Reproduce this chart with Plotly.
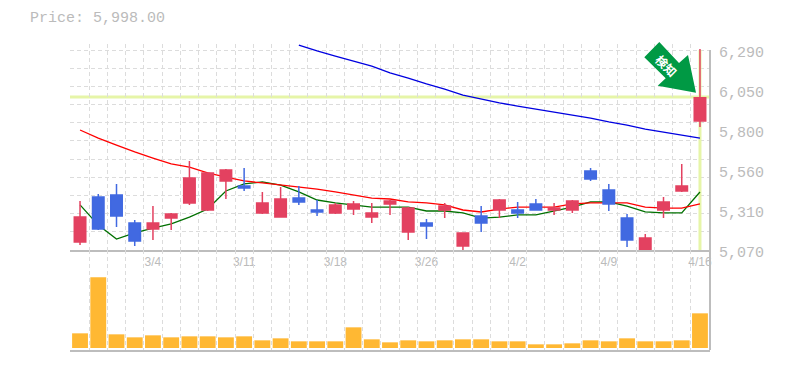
import plotly.graph_objects as go

dates = ["2/27","2/28","2/29","3/1","3/4","3/5","3/6","3/7","3/8","3/11","3/12","3/13","3/14","3/15","3/18","3/19","3/21","3/22","3/25","3/26","3/27","3/28","3/29","4/1","4/2","4/3","4/4","4/5","4/8","4/9","4/10","4/11","4/12","4/15","4/16"]
open_ = [5119,5393,5406,5235,5198,5265,5357,5314,5491,5460,5296,5271,5387,5314,5296,5320,5271,5351,5180,5235,5314,5094,5277,5314,5314,5351,5314,5314,5552,5436,5265,5070,5314,5430,5857]
high = [5369,5412,5473,5253,5338,5296,5613,5540,5564,5570,5424,5454,5460,5375,5357,5369,5357,5375,5332,5259,5357,5174,5338,5381,5363,5381,5357,5375,5570,5473,5290,5168,5393,5595,6296]
low = [5100,5192,5210,5094,5131,5192,5345,5308,5381,5430,5290,5271,5345,5277,5290,5284,5235,5284,5131,5137,5265,5064,5180,5265,5265,5314,5284,5296,5491,5308,5088,5064,5265,5424,5820]
close = [5271,5198,5277,5125,5235,5290,5509,5540,5558,5448,5357,5381,5363,5302,5345,5351,5296,5369,5326,5216,5338,5174,5235,5375,5296,5314,5326,5369,5503,5351,5131,5143,5363,5460,5998]
ma_short = [5345,5222,5137,5174,5204,5229,5271,5320,5430,5473,5485,5466,5424,5375,5357,5345,5332,5332,5332,5308,5308,5296,5265,5271,5284,5284,5308,5332,5363,5363,5338,5302,5296,5296,5424]
ma_mid = [5802,5753,5710,5668,5631,5595,5576,5540,5515,5491,5479,5466,5454,5442,5424,5406,5387,5381,5363,5357,5345,5314,5302,5320,5332,5332,5332,5351,5357,5357,5357,5332,5326,5326,5351]
ma_long = [None]*12 + [6320,6284,6253,6223,6192,6150,6119,6083,6052,6015,5991,5967,5948,5930,5912,5893,5875,5851,5832,5808,5790,5771,5753]
volume = [44,212,41,32,38,32,35,35,32,35,23,29,20,20,20,62,26,17,23,20,23,26,26,20,20,11,11,14,23,20,29,20,20,23,104]
price_ticks = [5070,5314,5558,5802,6046,6290]
price_labels = ["5,070","5,310","5,560","5,800","6,050","6,290"]
date_tick_index = [4,9,14,19,24,29,34]
signal_price = 6003
title_text = "Price: 5,998.00"
signal_text = "検知"

W, H = 785, 370
L, R, T, B = 70, 710, 44, 350
AXIS_BOTTOM = 250
UNIT = 6.1
Y_TOP = price_ticks[0] + (AXIS_BOTTOM - T) * UNIT
def px(x): return (x - L) / (R - L)
def py(y): return (B - y) / (B - T)

x = list(range(len(dates)))
x_range = [-0.55, len(dates) - 1 + 0.55]
GRID = "#dcdcdc"
AXIS = "#bdbdbd"
TEXT = "#bbbbbb"
RED = "#e34160"
BLUE = "#4169e1"
SIGNAL = "#e6f5a8"
GREEN = "#009944"
DASH = "4px,3px"

fig = go.Figure()
fig.add_trace(go.Scatter(x=x, y=ma_short, mode="lines", line=dict(color="#007000", width=1.3)))
fig.add_trace(go.Scatter(x=x, y=ma_mid, mode="lines", line=dict(color="#ff0000", width=1.3)))
fig.add_trace(go.Scatter(x=x, y=ma_long, mode="lines", line=dict(color="#0000e0", width=1.3)))
fig.add_trace(go.Candlestick(x=x, open=open_, high=high, low=low, close=close, yaxis="y3",
    increasing=dict(line=dict(color=RED, width=1.5), fillcolor=RED),
    decreasing=dict(line=dict(color=BLUE, width=1.5), fillcolor=BLUE),
    whiskerwidth=0))
fig.add_trace(go.Bar(x=x, y=volume, marker=dict(color="#ffb833", line=dict(width=0)), width=0.87, xaxis="x2", yaxis="y2"))

arrow = [(659.3,42),(679,63),(688,55),(696,92.7),(657.7,85.7),(665.7,78.3),(644.3,57.3)]
path = "M " + " L ".join(f"{px(a)},{py(b)}" for a, b in arrow) + " Z"

minor_x = dict(tickmode="linear", tick0=-0.5, dtick=1, showgrid=True, gridcolor=GRID, griddash=DASH, gridwidth=1, ticks="")
annotations = [
    dict(xref="paper", yref="paper", x=px(28), y=py(18), xanchor="left", yanchor="middle", showarrow=False, text=title_text,
         font=dict(family="Liberation Mono", size=15, color=TEXT)),
    dict(xref="paper", yref="paper", x=px(667), y=py(65), xanchor="center", yanchor="middle", showarrow=False, text=signal_text, textangle=45,
         font=dict(family="Noto Sans CJK JP", size=12, color="white", weight="bold")),
]
for value, label in zip(price_ticks, price_labels):
    annotations.append(dict(xref="paper", yref="y", x=px(717), y=value, yshift=-3, xanchor="left", yanchor="middle", showarrow=False,
                            text=label, font=dict(family="Liberation Mono", size=15, color=TEXT)))

fig.update_layout(
    width=W, height=H, autosize=False,
    margin=dict(l=L, r=W-R, t=T, b=H-B),
    paper_bgcolor="white", plot_bgcolor="white",
    showlegend=False, boxgap=0.1,
    xaxis=dict(domain=[0,1], range=x_range, anchor="y", rangeslider=dict(visible=False),
        tickmode="array", tickvals=date_tick_index, ticktext=[dates[i] for i in date_tick_index],
        tickfont=dict(family="Liberation Sans", size=12, color=TEXT), ticks="", showgrid=False, zeroline=False,
        showline=True, linecolor=AXIS, linewidth=2, minor=minor_x),
    xaxis2=dict(domain=[0,1], range=x_range, anchor="y2", showticklabels=False, ticks="", showgrid=False, zeroline=False,
        showline=True, linecolor=AXIS, linewidth=2, minor=minor_x),
    yaxis=dict(domain=[py(AXIS_BOTTOM),1], range=[price_ticks[0], Y_TOP], anchor="x", side="right",
        showticklabels=False, ticks="", showgrid=False, zeroline=False, showline=False,
        minor=dict(tickmode="linear", tick0=price_ticks[0], dtick=(price_ticks[-1]-price_ticks[0])/11, showgrid=True, gridcolor=GRID, griddash=DASH, gridwidth=1, ticks="")),
    yaxis3=dict(overlaying="y", range=[price_ticks[0], Y_TOP], anchor="x", side="right", showticklabels=False, ticks="", showgrid=False, zeroline=False, showline=False),
    yaxis2=dict(domain=[0,py(AXIS_BOTTOM)], range=[-6,294], anchor="x2", side="right", showticklabels=False, ticks="", showgrid=False, zeroline=False, showline=False),
    shapes=[
        dict(type="rect", xref="paper", yref="paper", x0=-0.01, x1=1.01, y0=py(50), y1=1.01, fillcolor="white", line=dict(width=0), layer="between"),
        dict(type="line", xref="paper", yref="y", x0=0, x1=1, y0=signal_price, y1=signal_price, line=dict(color=SIGNAL, width=3), layer="between"),
        dict(type="line", xref="x", yref="y", x0=x[-1], x1=x[-1], y0=price_ticks[0], y1=price_ticks[-1], line=dict(color=SIGNAL, width=3), layer="between"),
        dict(type="line", xref="paper", yref="paper", x0=1, x1=1, y0=0, y1=py(50), line=dict(color=AXIS, width=2), layer="above"),
        dict(type="path", xref="paper", yref="paper", path=path, fillcolor=GREEN, line=dict(width=0), layer="above"),
    ],
    annotations=annotations,
)
fig.write_html("out.html", post_script="document.body.style.margin='0';", config=dict(displayModeBar=False))
